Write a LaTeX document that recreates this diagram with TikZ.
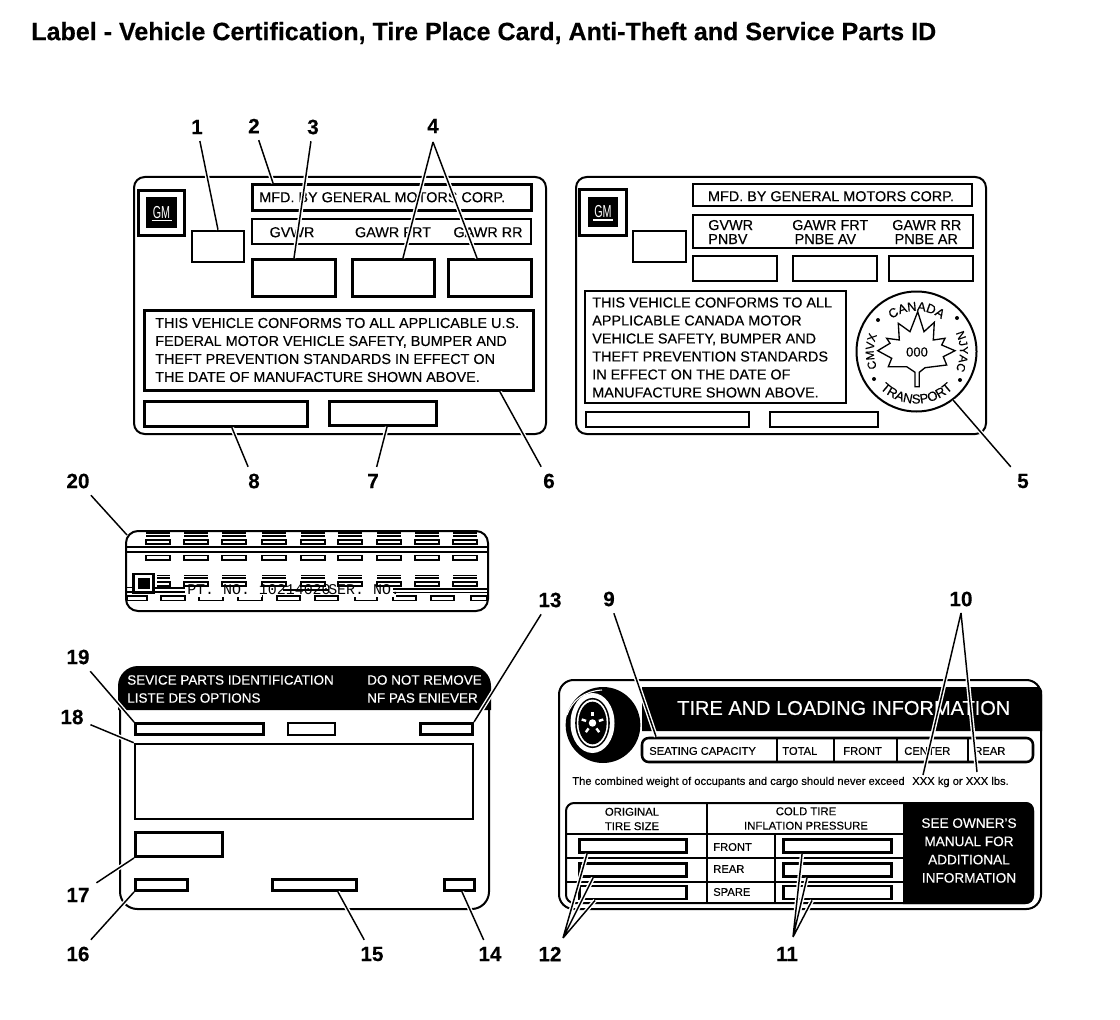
\documentclass[tikz,border=0pt]{standalone}
\usepackage{fontspec}
\setmainfont[FakeBold=0.35]{Liberation Sans}
\newfontfamily\plainfont{Liberation Sans}
\newfontfamily\ptfont{Liberation Mono}
\usetikzlibrary{decorations.text}
\newcommand{\fsz}[1]{\fontsize{#1}{#1}\selectfont}
\begin{document}
\begin{tikzpicture}[
    x=0.75pt, y=-0.75pt,
    wh/.style 2 args={minimum width=#1*0.75pt, minimum height=#2*0.75pt},
    card/.style={draw, line width=1.5pt, inner sep=0pt, rounded corners=8pt},
    fld/.style={draw, line width=2.2pt, inner sep=0pt},
    fldthin/.style={draw, line width=1.5pt, inner sep=0pt},
    logobox/.style={draw, line width=2.4pt, inner sep=0pt},
    logoblk/.style={fill=black, inner sep=0pt, text=white, font=\plainfont\fsz{13}},
    lbl/.style={inner sep=0pt, anchor=west, align=left, font=\fsz{10.8}, text height=7.8pt, text depth=0pt},
    note/.style={inner sep=0pt, anchor=west, align=left, font=\fontsize{10.8}{13.5}\selectfont},
    small/.style={inner sep=0pt, anchor=west, font=\fsz{8.4}},
    head/.style={inner sep=0pt, align=center, font=\fontsize{8.5}{10.8}\selectfont},
    rev/.style={inner sep=0pt, anchor=west, text=white, font=\fsz{10.1}},
    num/.style={inner sep=5pt, font=\bfseries\fsz{15.5}},
    leader/.style={line width=1.1pt, preaction={draw=white, line width=3.2pt}},
]
    \useasboundingbox (0,0) rectangle (1120,1020);

    % Title
    \node[inner sep=0pt, anchor=west, font=\bfseries\fsz{18.8}] (title) at (31,33) {Label - Vehicle Certification, Tire Place Card, Anti-Theft and Service Parts ID};

    % US certification label
    \node[card, wh={412}{257}] (cardone) at (340,305.5) {};
    \node[logobox, wh={46}{45}] (gmone) at (161.5,213) {};
    \node[logoblk, wh={31}{31}] (gmblkone) at (161.5,212.5) {\scalebox{.62}[1]{GM}};
    \draw[white, line width=1pt] ([xshift=-7.5pt,yshift=-6pt]gmblkone.center) -- ([xshift=7.5pt,yshift=-6pt]gmblkone.center);
    \node[fldthin, line width=1.9pt, wh={52}{31}] (vinone) at (218,246.5) {};
    \node[fld, wh={279}{26}] (mfdone) at (392,197.5) {};
    \node[fldthin, wh={279}{25}] (rowone) at (391.5,231.5) {};
    \node[fld, wh={83}{37}] (gvwrone) at (294,278) {};
    \node[fld, wh={82}{37}] (frtone) at (393.5,278) {};
    \node[fld, wh={83}{37}] (rrone) at (490,278) {};
    \node[fld, wh={389}{80}] (noteone) at (339,350.5) {};
    \node[fld, wh={163}{25}] (botaone) at (226,414) {};
    \node[fld, wh={107}{24}] (botbone) at (383,413.5) {};
    \node[lbl] (mfdtxtone) at (259,197) {MFD. BY GENERAL MOTORS CORP.};
    \node[lbl, anchor=center] (gvwrtxtone) at (292,232) {GVWR};
    \node[lbl, anchor=center] (frttxtone) at (393,232) {GAWR FRT};
    \node[lbl, anchor=center] (rrtxtone) at (488,232) {GAWR RR};
    \node[note] (notetxtone) at (155,350) {THIS VEHICLE CONFORMS TO ALL APPLICABLE U.S.\\FEDERAL MOTOR VEHICLE SAFETY, BUMPER AND\\THEFT PREVENTION STANDARDS IN EFFECT ON\\THE DATE OF MANUFACTURE SHOWN ABOVE.};

    % Canada certification label
    \node[card, wh={410}{257}] (cardtwo) at (781,305.5) {};
    \node[logobox, wh={47}{46}] (gmtwo) at (603,212.5) {};
    \node[logoblk, wh={30}{30}] (gmblktwo) at (603,212) {\scalebox{.62}[1]{GM}};
    \draw[white, line width=1pt] ([xshift=-7.5pt,yshift=-6pt]gmblktwo.center) -- ([xshift=7.5pt,yshift=-6pt]gmblktwo.center);
    \node[fldthin, wh={53}{31}] (vintwo) at (659.5,246.5) {};
    \node[fldthin, wh={279}{22}] (mfdtwo) at (832.5,195) {};
    \node[fldthin, line width=1.9pt, wh={280}{33}] (rowtwo) at (833,231.5) {};
    \node[fldthin, line width=1.9pt, wh={84}{25}] (gvwrtwo) at (735,268.5) {};
    \node[fldthin, line width=1.9pt, wh={84}{25}] (frttwo) at (835,268.5) {};
    \node[fldthin, line width=1.9pt, wh={84}{25}] (rrtwo) at (931,268.5) {};
    \node[fldthin, wh={261}{112}] (notetwo) at (715.5,347) {};
    \node[fldthin, wh={163}{15}] (botatwo) at (667.5,419.5) {};
    \node[fldthin, line width=1.9pt, wh={108}{15}] (botbtwo) at (824,419.5) {};
    \node[lbl, anchor=center] (mfdtxttwo) at (831,196) {MFD. BY GENERAL MOTORS CORP.};
    \node[note, font=\fontsize{10.8}{10.5}\selectfont] (gvwrtxttwo) at (708,232) {GVWR\\PNBV};
    \node[note, font=\fontsize{10.8}{10.5}\selectfont] (frttxttwo) at (792,232) {GAWR FRT\\\,PNBE AV};
    \node[note, font=\fontsize{10.8}{10.5}\selectfont] (rrtxttwo) at (892,232) {GAWR RR\\\,PNBE AR};
    \node[note] (notetxttwo) at (592,347.5) {THIS VEHICLE CONFORMS TO ALL\\APPLICABLE CANADA MOTOR\\VEHICLE SAFETY, BUMPER AND\\THEFT PREVENTION STANDARDS\\IN EFFECT ON THE DATE OF\\MANUFACTURE SHOWN ABOVE.};

    % Seal
    \node[draw, circle, line width=1.5pt, minimum size=90pt, inner sep=0pt] (sealring) at (916.5,351.5) {};
    \draw[line width=1pt] (917.7,311.7) -- (924,331.7) -- (934.3,322.3) -- (933.3,340) -- (945,338.3) -- (941.7,345) -- (955,350.7) -- (943.3,356.7) -- (946.7,365) -- (925,367.7) -- (919.3,372.3) -- (919.3,386.7) -- (915,386.7) -- (915,372.3) -- (906.7,366.7) -- (888.3,366.7) -- (891.7,358.3) -- (877.7,350.7) -- (890,343.3) -- (886.7,338.3) -- (899.3,340) -- (898.3,323.3) -- (910,331.7) -- cycle;
    \node[inner sep=0pt, font=\fsz{9.8}] (sealnum) at (917,352) {000};
    \path[decorate, decoration={text along path, text align=center, text={|\fsz{9.6}|CANADA}}] ([shift={(135:30.5pt)}]sealring.center) arc[start angle=135, end angle=45, radius=30.5pt];
    \path[decorate, decoration={text along path, text align=center, text={|\fsz{9.8}|TRANSPORT}}] ([shift={(205:39pt)}]sealring.center) arc[start angle=205, end angle=335, radius=39pt];
    \path[decorate, decoration={text along path, text align=center, text={|\fsz{8.8}|CMVX}}] ([shift={(215:32pt)}]sealring.center) arc[start angle=215, end angle=145, radius=32pt];
    \path[decorate, decoration={text along path, text align=center, text={|\fsz{8.8}|NJYAC}}] ([shift={(35:32.5pt)}]sealring.center) arc[start angle=35, end angle=-35, radius=32.5pt];
    \foreach \dotx/\doty in {878/320, 957/318, 874/379, 960/380}
        \fill (\dotx,\doty) circle (1.5pt);

    % Anti-theft label
    \draw[line width=1.2pt] (127,547) -- (487,547) (127,552) -- (487,552);
    \foreach \dx in {146,184,222,262,301,338,377,415,453} {
        \draw[line width=1.3pt] (\dx,533) -- ++(24,0);
        \draw[line width=0.8pt] (\dx,536) -- ++(24,0);
        \draw[line width=0.9pt] (\dx,540) rectangle ++(24,4);
        \draw[line width=1.2pt] (\dx,555.5) rectangle ++(24,4.5);
        \draw[line width=1.2pt] (\dx,575.5) -- ++(24,0);
        \draw[line width=1pt] (\dx,578) -- ++(24,0);
        \draw[line width=1.1pt] (\dx,582) rectangle ++(24,4);
    }
    \foreach \ba/\bb in {127/147,161/185,199/223,238/262,277/300,315/338,355/377,393/416,431/454,471/487}
        \draw[line width=1.2pt] (\ba,596) rectangle (\bb,600.5);
    \fill[white] (186,586.8) rectangle (262,597);
    \fill[white] (339,586.8) rectangle (396,597);
    \fill[white] (127,571) rectangle (157,595);
    \draw[line width=1.2pt] (127,587.5) -- (132,587.5) (127,592) -- (132,592);
    \draw[line width=1.2pt] (155,588) -- (185,588) (155,592) -- (185,592);
    \draw[line width=1.2pt] (393,589) -- (487,589) (393,592.5) -- (487,592.5);
    \draw[line width=1.2pt] (283,590) -- (329,590);
    \node[fldthin, fill=white, wh={21}{19}] (ptlogo) at (143.5,583) {};
    \draw[line width=0.8pt] (134.5,574.5) rectangle (152.5,591.5);
    \fill (138,578) rectangle (150,589);
    \draw[line width=1.5pt, rounded corners=9pt] (126,531) rectangle (488,611);
    \node[inner sep=0pt, anchor=west, font=\ptfont\fsz{11.2}] (ptno) at (187,590) {PT. NO. 10214020};
    \node[inner sep=0pt, anchor=west, font=\ptfont\fsz{11.2}] (serno) at (328,590) {SER. NO.};

    % Service parts label
    \node[card, rounded corners=13pt, wh={369}{238}] (cardthree) at (304.5,790) {};
    \fill (118,710) [rounded corners=15pt] -- (118,666) -- (491,666) [sharp corners] -- (491,710) -- cycle;
    \node[rev] (spida) at (127,680) {SEVICE PARTS IDENTIFICATION};
    \node[rev] (spidb) at (127,698) {LISTE DES OPTIONS};
    \node[rev] (spidc) at (367,680) {DO NOT REMOVE};
    \node[rev] (spidd) at (367,698) {NF PAS ENIEVER};
    \node[fld, wh={128}{11}] (spvin) at (199.5,729) {};
    \node[fldthin, wh={47}{12}] (spmid) at (311.5,729) {};
    \node[fld, wh={52}{11}] (spright) at (446.5,729) {};
    \node[fldthin, line width=1.9pt, wh={338}{75}] (spcodes) at (304,781.5) {};
    \node[fld, wh={87}{24}] (spbar) at (179,844.5) {};
    \node[fld, wh={52}{11}] (spleft) at (161.5,885) {};
    \node[fld, wh={84}{11}] (spcent) at (314.5,885) {};
    \node[fld, wh={30}{11}] (spend) at (459.5,885) {};

    % Tire label
    \node[card, rounded corners=11pt, wh={482}{229}] (cardfour) at (800,794.5) {};
    \fill (642,731) -- (642,687) [rounded corners=3pt] -- (1042,687) [sharp corners] -- (1042,731) -- cycle;
    \node[inner sep=0pt, anchor=west, text=white, font=\fsz{15}] (tiretitle) at (677,708) {TIRE AND LOADING INFORMATION};
    \coordinate (tirehub) at (592.5,723);
    \fill (603,725) ellipse [x radius=28pt, y radius=28.5pt];
    \draw[white, line width=0.8pt] (567,715) .. controls (572,700) and (585,691) .. (602,690);
    \fill[white] (tirehub) ellipse [x radius=16.5pt, y radius=22.5pt];
    \fill (tirehub) ellipse [x radius=13pt, y radius=18.8pt];
    \fill[white] (tirehub) ellipse [x radius=11.8pt, y radius=17.6pt];
    \fill (tirehub) ellipse [x radius=10.6pt, y radius=16pt];
    \fill[white] (tirehub) circle (2.8pt);
    \foreach \a in {90,162,234,306,18}
        \draw[white, line width=1.8pt] ([shift={(\a:5pt)}]tirehub) -- ([shift={(\a:8.5pt)}]tirehub);
    \node[draw, line width=1.9pt, inner sep=0pt, rounded corners=5pt, wh={391}{24}] (seatrow) at (837.5,750) {};
    \foreach \cx/\cw in {777/0.8pt, 834/0.8pt, 897/1.6pt, 968/1.6pt}
        \draw[line width=\cw] (\cx,738) -- (\cx,762);
    \node[small] (seattxt) at (649,751) {SEATING CAPACITY};
    \node[small] (totaltxt) at (782,751) {TOTAL};
    \node[small] (fronttxt) at (843,751) {FRONT};
    \node[small] (centertxt) at (904,751) {CENTER};
    \node[small] (reartxt) at (974,751) {REAR};
    \node[small] (weighttxt) at (572,782) {The combined weight of occupants and cargo should never exceed};
    \node[small] (limittxt) at (912,782) {XXX kg or XXX lbs.};
    \coordinate (kgmark) at (923,775);
    \coordinate (lbmark) at (977,772);
    \node[draw, line width=1.5pt, inner sep=0pt, rounded corners=6pt, wh={467}{100}] (tiretable) at (799.5,853) {};
    \fill (903,802) [rounded corners=6pt] -- (1034,802) -- (1034,904) [sharp corners] -- (903,904) -- cycle;
    \draw[line width=1.3pt] (565,834) -- (903,834) (565,858) -- (903,858) (565,882) -- (903,882);
    \draw[line width=1.3pt] (707,802) -- (707,904) (775,834) -- (775,904);
    \node[head] (sizetxt) at (632,819) {ORIGINAL\\TIRE SIZE};
    \node[head] (coldtxt) at (806,818.5) {COLD TIRE\\INFLATION PRESSURE};
    \node[small] (frowtxt) at (713,847) {FRONT};
    \node[small] (rrowtxt) at (713,869) {REAR};
    \node[small] (srowtxt) at (713,892) {SPARE};
    \node[fld, wh={107}{13}] (sizefrt) at (633,846) {};
    \node[fld, wh={107}{13}] (sizerr) at (633,870) {};
    \node[fld, wh={107}{13}] (sizesp) at (633,892.5) {};
    \node[fld, wh={108}{13}] (presfrt) at (837.5,846) {};
    \node[fld, wh={108}{13}] (presrr) at (837.5,870) {};
    \node[fld, wh={108}{13}] (pressp) at (837.5,892.5) {};
    \node[inner sep=0pt, align=center, text=white, font=\fontsize{10.2}{13.7}\selectfont] (seeowner) at (969,850.5) {SEE OWNER'S\\MANUAL FOR\\ADDITIONAL\\INFORMATION};

    % Numbers
    \node[num] (n1) at (197,127) {1};
    \node[num] (n2) at (254,126) {2};
    \node[num] (n3) at (313,127) {3};
    \node[num] (n4) at (433,126) {4};
    \node[num] (n5) at (1023,481) {5};
    \node[num] (n6) at (549,481) {6};
    \node[num] (n7) at (373,481) {7};
    \node[num] (n8) at (254,481) {8};
    \node[num] (n9) at (609,599) {9};
    \node[num] (n10) at (961,599) {10};
    \node[num] (n11) at (787,954) {11};
    \node[num] (n12) at (550,954) {12};
    \node[num] (n13) at (550,600) {13};
    \node[num] (n14) at (490,954) {14};
    \node[num] (n15) at (372,954) {15};
    \node[num] (n16) at (78,954) {16};
    \node[num] (n17) at (78,895) {17};
    \node[num] (n18) at (72,717) {18};
    \node[num] (n19) at (78,657) {19};
    \node[num] (n20) at (78,481) {20};
    \coordinate (tipfour) at (433,142);
    \coordinate (tipten) at (961,613);
    \coordinate (tipeleven) at (793,937);
    \coordinate (tiptwelve) at (563,938);
    \coordinate (antimark) at (127,535);

    % Leaders
    \draw[leader] (n1) -- (vinone.north);
    \draw[leader] (n2) -- ([xshift=-89.25pt]mfdone.north);
    \draw[leader] (n3) -- (gvwrone.north);
    \draw[leader] (tipfour) -- ([xshift=7.1pt]frtone.north) (tipfour) -- ([xshift=-9.75pt]rrone.north);
    \draw[leader] (n5) -- (sealring.-53);
    \draw[leader] (n6) -- ([xshift=120.75pt]noteone.south);
    \draw[leader] (n7) -- ([xshift=3pt]botbone.south);
    \draw[leader] (n8) -- ([xshift=4.5pt]botaone.south);
    \draw[leader] (n9) -- ([xshift=-136.1pt]seatrow.north);
    \draw[leader] (tipten) -- (kgmark) (tipten) -- (lbmark);
    \draw[leader] (tipeleven) -- ([xshift=-26.6pt]presfrt.south) (tipeleven) -- ([xshift=-22.9pt]presrr.south) (tipeleven) -- ([xshift=-19.1pt]pressp.south);
    \draw[leader] (tiptwelve) -- ([xshift=-34.5pt]sizefrt.south) (tiptwelve) -- ([xshift=-30pt]sizerr.south) (tiptwelve) -- ([xshift=-28.5pt]sizesp.south);
    \draw[leader] (n13) -- (spright.north east);
    \draw[leader] (n14) -- ([xshift=1.9pt]spend.south);
    \draw[leader] (n15) -- ([xshift=17.6pt]spcent.south);
    \draw[leader] (n16) -- (spleft.south west);
    \draw[leader] (n17) -- (spbar.south west);
    \draw[leader] (n18) -- (spcodes.north west);
    \draw[leader] (n19) -- (spvin.north west);
    \draw[leader] (n20) -- (antimark);
\end{tikzpicture}
\end{document}
